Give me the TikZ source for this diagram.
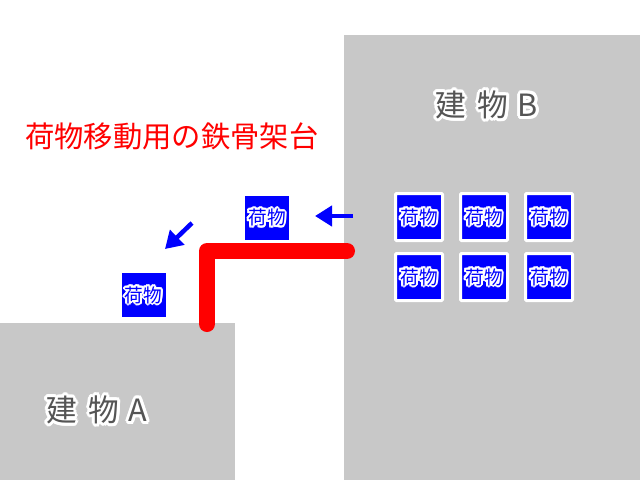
\documentclass[tikz,border=0pt]{standalone}
\usepackage{fontspec}
\usetikzlibrary{arrows.meta}
\newfontfamily\jp{Noto Sans CJK JP}
\definecolor{bldg}{RGB}{200,200,200}
\definecolor{lbl}{RGB}{85,85,85}
\definecolor{cargoblue}{RGB}{0,0,255}
\newcommand\halo[3]{%
  \leavevmode\begingroup
  \foreach \ang in {0,22.5,...,337.5}{%
    \pgfmathsetlengthmacro\hx{#1*cos(\ang)}%
    \pgfmathsetlengthmacro\hy{#1*sin(\ang)}%
    \rlap{\kern\hx\raisebox{\hy}{\color{white}#3}}}%
  {\color{#2}#3}\endgroup}
\tikzset{
  cargo/.style={fill=cargoblue, inner sep=0pt, minimum size=33pt, font=\jp\fontsize{14}{16}\selectfont},
  cargob/.style={cargo, draw=white, line width=2.25pt, minimum size=35.25pt, rounded corners=0.75pt},
  move/.style={draw=cargoblue, line width=3.4pt, -{Triangle[length=12.75pt,width=15pt]}},
  frame/.style={red, line width=12pt, line cap=round, line join=round},
  bldglabel/.style={inner sep=0pt, anchor=west, font=\jp\fontsize{23}{26}\selectfont}
}
\begin{document}
\begin{tikzpicture}[x=0.75pt,y=-0.75pt]
\useasboundingbox[fill=white] (0,0) rectangle (640,480);
% buildings
\fill[bldg] (0,323) rectangle (235,480);
\fill[bldg] (344,35) rectangle (640,480);
\node[bldglabel] (labA) at (46,410) {\halo{2.2pt}{lbl}{建\hspace{9pt}物\hspace{7pt}A}};
\node[bldglabel] (labB) at (435,105) {\halo{2.2pt}{lbl}{建\hspace{9pt}物\hspace{7pt}B}};
% title
\node[inner sep=0pt, anchor=west, text=red, font=\jp\fontsize{22}{26}\selectfont] (title) at (25,136) {荷物移動用の鉄骨架台};
% steel frame
\coordinate (f1) at (207,324);
\coordinate (f2) at (207,251);
\coordinate (f3) at (347,251);
\draw[frame] (f1) -- (f2) -- (f3);
% cargo in building B
\node[cargob] (c11) at (419,217) {\halo{1.5pt}{cargoblue}{荷物}};
\node[cargob] (c12) at (484,217) {\halo{1.5pt}{cargoblue}{荷物}};
\node[cargob] (c13) at (549,217) {\halo{1.5pt}{cargoblue}{荷物}};
\node[cargob] (c21) at (419,277) {\halo{1.5pt}{cargoblue}{荷物}};
\node[cargob] (c22) at (484,277) {\halo{1.5pt}{cargoblue}{荷物}};
\node[cargob] (c23) at (549,277) {\halo{1.5pt}{cargoblue}{荷物}};
% moving cargo
\node[cargo] (m1) at (267,217.5) {\halo{1.5pt}{cargoblue}{荷物}};
\node[cargo] (m2) at (143.5,295) {\halo{1.5pt}{cargoblue}{荷物}};
% arrows
\coordinate (a1s) at (353,216);
\coordinate (a1e) at (315,216);
\coordinate (a2s) at (192,223);
\coordinate (a2e) at (165,249);
\draw[move] (a1s) -- (a1e);
\draw[move] (a2s) -- (a2e);
\end{tikzpicture}
\end{document}
